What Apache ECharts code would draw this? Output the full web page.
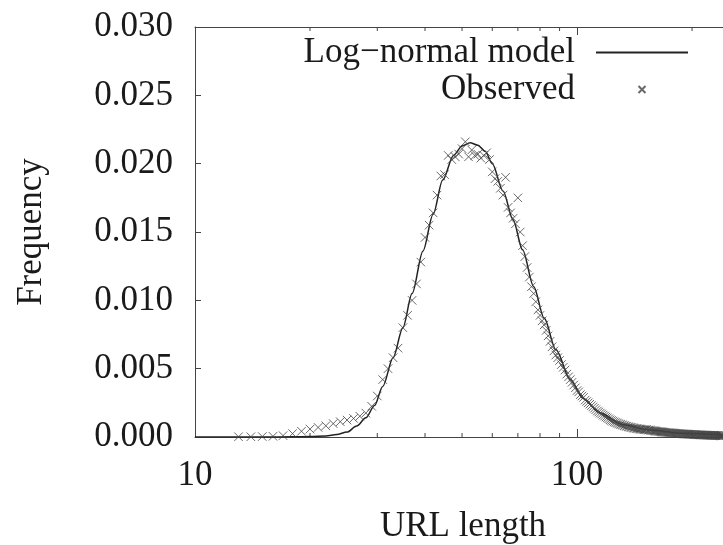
<!DOCTYPE html>
<html>
<head>
<meta charset="utf-8">
<script src="https://cdn.jsdelivr.net/npm/echarts@6/dist/echarts.min.js"></script>
<style>html,body{margin:0;padding:0;background:#fff;}#c{width:723px;height:545px;}</style>
</head>
<body>
<div id="c"></div>
<script>
// ---- data ----
const yTicks = [0, 0.005, 0.010, 0.015, 0.020, 0.025, 0.030];
const xMajorTicks = [10, 100];
const xMinorTicks = [20, 30, 40, 50, 60, 70, 80, 90, 200];

const modelX = [10,15,18,20,22,23.5,25,26.5,28,29.5,31,33,35,37,39.5,42,44.5,47.5,50,52.5,55,57.5,60,64,68,72,77,82,88,96,104,115,132,155,190,241];
const modelY = [0,0,0.00001,0.00003,0.00008,0.00018,0.00036,0.0008,0.0014,0.0023,0.0037,0.0058,0.0080,0.0105,0.0136,0.0163,0.0188,0.0206,0.0213,0.02153,0.02135,0.0209,0.0200,0.0180,0.0159,0.0137,0.0110,0.0087,0.0064,0.0042,0.0028,0.00175,0.0009,0.00051,0.00027,0.00015];

const obsLength = [13,14,15,16,17,18,19,20,21,22,23,24,25,26,27,28,29,30,
31,32,33,34,35,36,37,38,39,40,41,42,43,44,45,46,47,48,49,50,
51,52,53,54,55,56,57,58,59,60,61,62,63,64,65,66,67,68,69,70,
71,72,73,74,75,76,77,78,79,80,81,82,83,84,85,86,87,88,89,90,
91,92,93,94,95,96,97,98,99,100,101,102,103,104,105,106,107,108,109,110,
111,112,113,114,115,116,117,118,119,120,121,122,123,124,125,126,127,128,129,130,
131,132,133,134,135,136,137,138,139,140,141,142,143,144,145,146,147,148,149,150,
151,152,153,154,155,156,157,158,159,160,161,162,163,164,165,166,167,168,169,170,
171,172,173,174,175,176,177,178,179,180,181,182,183,184,185,186,187,188,189,190,
191,192,193,194,195,196,197,198,199,200,201,202,203,204,205,206,207,208,209,210,
211,212,213,214,215,216,217,218,219,220,221,222,223,224,225,226,227,228,229,230,
231,232,233,234,235,236,237,238,239,240,241,242,243,244,245,246,247,248,249,250];
const obsFreq = [0.00002,0.00002,0.00003,0.00005,0.00010,0.00025,0.00042,0.00058,0.00070,0.00082,0.00098,0.00112,0.00124,0.00136,0.00152,0.00175,0.00225,0.00300,
0.0042,0.0050,0.0058,0.0065,0.0080,0.0089,0.0100,0.0112,0.0128,0.0146,0.0155,0.0164,0.0177,0.0191,0.0192,0.0206,0.0203,0.0205,0.0207,0.0211,
0.0216,0.0205,0.0210,0.0206,0.0207,0.0204,0.0206,0.0208,0.0203,0.0194,0.0189,0.0187,0.0182,0.0177,0.0190,0.0168,0.0164,0.0160,0.0156,0.0175,
0.0150,0.0140,0.0132,0.0124,0.0117,0.0110,0.0105,0.0099,0.0093,0.0089,0.0085,0.0082,0.0078,0.0074,0.0070,0.0066,0.0063,0.0060,0.0058,0.0056,
0.0053,0.0051,0.0049,0.0046,0.0044,0.0042,0.0040,0.0038,0.0036,0.0034,0.0033,0.0031,0.0030,0.0029,0.0027,0.0026,0.0025,0.0024,0.0023,0.0022,
0.0021,0.0020,0.0019,0.00183,0.00175,0.00168,0.00160,0.00153,0.00146,0.00140,0.00133,0.00126,0.00121,0.00116,0.00111,0.00107,0.00103,0.00099,0.00095,0.00092,
0.00089,0.00086,0.00083,0.00080,0.00078,0.00075,0.00073,0.00071,0.00069,0.00067,0.00065,0.00064,0.00062,0.00061,0.00059,0.00058,0.00057,0.00056,0.00055,0.00054,
0.00053,0.00055,0.00051,0.00050,0.00052,0.00048,0.00047,0.00046,0.00045,0.00044,0.00043,0.00042,0.00041,0.00040,0.00039,0.00038,0.00037,0.00036,0.00035,0.00035,
0.00034,0.00033,0.00032,0.00032,0.00031,0.00030,0.00030,0.00029,0.00028,0.00028,0.00027,0.00027,0.00026,0.00026,0.00025,0.00025,0.00024,0.00024,0.00023,0.00023,
0.00022,0.00022,0.00021,0.00021,0.00021,0.00020,0.00020,0.00019,0.00019,0.00019,0.00018,0.00018,0.00018,0.00017,0.00017,0.00017,0.00016,0.00016,0.00016,0.00016,
0.00015,0.00015,0.00015,0.00015,0.00014,0.00014,0.00014,0.00014,0.00013,0.00013,0.00013,0.00013,0.00013,0.00012,0.00012,0.00012,0.00012,0.00012,0.00011,0.00011,
0.00011,0.00011,0.00011,0.00011,0.00010,0.00010,0.00010,0.00010,0.00010,0.00010,0.00009,0.00009,0.00009,0.00009,0.00009,0.00009,0.00009,0.00009,0.00009,0.00009];

// ---- chart ----
const FONT = 'Liberation Serif';
const FS = 35;
const TXT = '#1a1a1a';
const AX = '#444';
const chart = echarts.init(document.getElementById('c'), null, {renderer: 'canvas'});

const xCommon = {
  type: 'log', logBase: 10, min: 10, max: 241,
  axisLine: {show: true, lineStyle: {color: AX, width: 1}},
  axisTick: {show: true, inside: true, length: 8, customValues: xMajorTicks, lineStyle: {color: AX}},
  splitLine: {show: false}, minorTick: {show: false}
};

chart.setOption({
  animation: false,
  backgroundColor: '#fff',
  grid: {left: 195, top: 27, bottom: 108, right: 0, containLabel: false},
  xAxis: [
    Object.assign({}, xCommon, {
      position: 'bottom',
      axisLabel: {show: true, margin: 21, fontFamily: FONT, fontSize: FS, color: TXT,
        customValues: xMajorTicks, formatter: v => String(v)}
    }),
    Object.assign({}, xCommon, {position: 'top', axisLabel: {show: false}})
  ],
  yAxis: {
    type: 'value', min: 0, max: 0.03, interval: 0.005,
    axisLine: {show: true, lineStyle: {color: AX, width: 1}},
    axisTick: {show: true, inside: true, length: 6, lineStyle: {color: AX}},
    splitLine: {show: false},
    axisLabel: {margin: 22, fontFamily: FONT, fontSize: FS, color: TXT,
      formatter: v => yTicks.includes(Math.round(v * 1000) / 1000) ? v.toFixed(3) : ''}
  },
  legend: {
    orient: 'vertical', align: 'right', right: 34, top: 35, padding: 0,
    itemWidth: 92, itemHeight: 7, itemGap: 2,
    data: [
      {name: 'Log\u2212normal model', itemStyle: {opacity: 0}},
      {name: 'Observed'}
    ],
    textStyle: {fontFamily: FONT, fontSize: FS, color: TXT, padding: [0, 16, 0, 0], lineHeight: 35}
  },
  graphic: [
    {type: 'text', x: 463, y: 527, style: {text: 'URL length', fontFamily: FONT, fontSize: FS, fill: TXT, textAlign: 'center', textVerticalAlign: 'middle'}},
    {type: 'text', rotation: Math.PI / 2, x: 32, y: 232, style: {text: 'Frequency', fontFamily: FONT, fontSize: FS, fill: TXT, textAlign: 'center', textVerticalAlign: 'middle'}}
  ],
  series: [
    {
      name: 'Log\u2212normal model', type: 'line', xAxisIndex: 0,
      data: modelX.map((x, i) => [x, modelY[i]]),
      symbol: 'none', showSymbol: false, smooth: 0.3, smoothMonotone: 'x',
      lineStyle: {color: '#222', width: 1.5}, itemStyle: {color: '#222'}, z: 2
    },
    {
      name: 'Observed', type: 'scatter', xAxisIndex: 0,
      data: obsLength.map((x, i) => [x, obsFreq[i]]),
      symbol: 'path://M0,0L10,10M10,0L0,10', symbolSize: 8.5,
      itemStyle: {color: 'rgba(0,0,0,0)', borderColor: '#444', borderWidth: 1}, z: 3
    },
    {
      name: 'minorTicks', type: 'custom', xAxisIndex: 0, silent: true,
      data: xMinorTicks.map(v => [v]), encode: {x: 0},
      renderItem: function (params, api) {
        const v = api.value(0);
        const b = api.coord([v, 0]);
        const t = api.coord([v, 0.03]);
        const st = {stroke: AX, lineWidth: 1};
        return {type: 'group', children: [
          {type: 'line', shape: {x1: b[0], y1: b[1], x2: b[0], y2: b[1] - 4}, style: st},
          {type: 'line', shape: {x1: t[0], y1: t[1], x2: t[0], y2: t[1] + 4}, style: st}
        ]};
      }, z: 1
    }
  ]
});
</script>
</body>
</html>
